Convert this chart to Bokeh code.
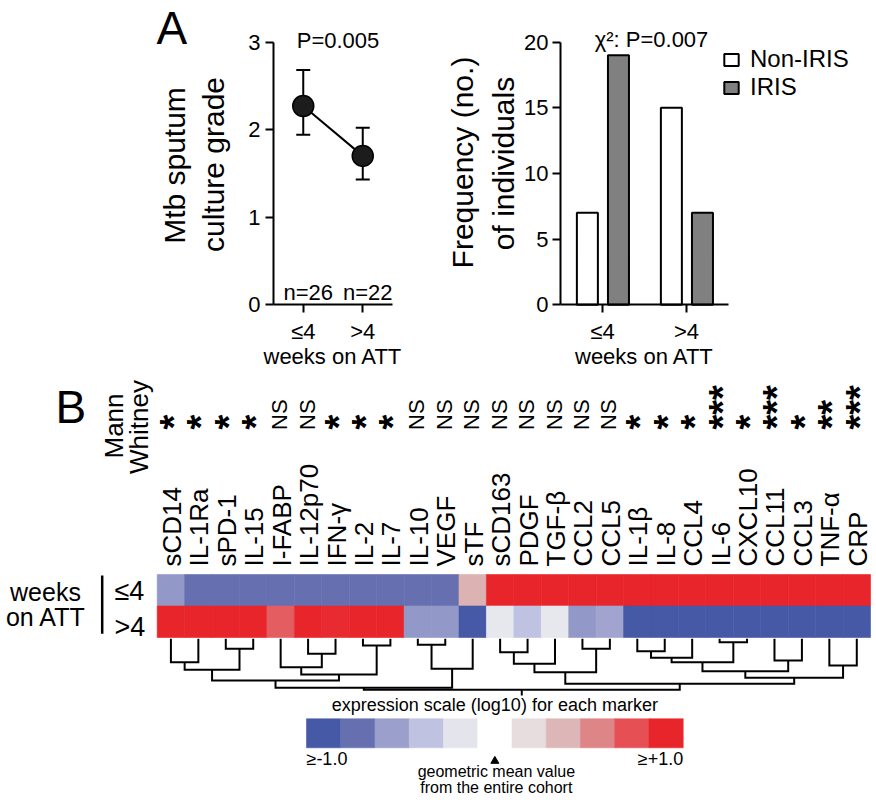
import numpy as np
from bokeh.plotting import figure
from bokeh.models import (ColumnDataSource, Range1d, Label, Legend, LegendItem,
                          LinearColorMapper, SingleIntervalTicker, FixedTicker, Whisker, TeeHead)
from bokeh.transform import dodge, transform
from bokeh.layouts import column, row
from bokeh.embed import file_html
from bokeh.resources import INLINE
from bokeh.core.properties import value

FONT = "Liberation Sans"

# ---------------- data: panel A, left (culture grade) ----------------
weeks = ["≤4", ">4"]
culture_mean = [2.27, 1.70]
culture_upper = [2.68, 2.02]
culture_lower = [1.94, 1.43]
n_per_group = ["n=26", "n=22"]
p_culture = "P=0.005"
culture_ylabel = ["Mtb sputum", "culture grade"]

# ---------------- data: panel A, right (frequency) ----------------
freq_non_iris = [7, 15]
freq_iris = [19, 7]
p_chi = "χ²: P=0.007"
freq_ylabel = ["Frequency (no.)", "of individuals"]

# ---------------- data: panel B (heatmap) ----------------
markers = ["sCD14", "IL-1Ra", "sPD-1", "IL-15", "I-FABP", "IL-12p70", "IFN-γ", "IL-2",
           "IL-7", "IL-10", "VEGF", "sTF", "sCD163", "PDGF", "TGF-β", "CCL2", "CCL5",
           "IL-1β", "IL-8", "CCL4", "IL-6", "CXCL10", "CCL11", "CCL3", "TNF-α", "CRP"]
significance = ["*", "*", "*", "*", "NS", "NS", "*", "*", "*", "NS", "NS", "NS", "NS",
                "NS", "NS", "NS", "NS", "*", "*", "*", "***", "*", "***", "*", "**", "***"]
expr_le4 = [-0.63, -0.8, -0.8, -0.8, -0.8, -0.8, -0.8, -0.8, -0.8, -0.8, -0.8, 0.42,
            1, 1, 1, 1, 1, 1, 1, 1, 1, 1, 1, 1, 1, 1]
expr_gt4 = [1, 1, 1, 1, 0.75, 1, 0.97, 1, 1, -0.63, -0.63, -1, -0.18, -0.4, -0.18,
            -0.63, -0.57, -1, -1, -1, -1, -1, -1, -1, -1, -1]
row_labels = ["≤4", ">4"]
# hierarchical clustering: (child_a, child_b, merge distance); leaves are 0..25
dendro_merges = [(0, 1, 23.4), (2, 3, 10.0), (26, 27, 31.0), (5, 6, 15.0), (4, 29, 28.4),
                 (7, 8, 6.7), (30, 31, 35.7), (28, 32, 41.7), (9, 10, 6.0), (34, 11, 30.0),
                 (33, 35, 49.0), (12, 13, 13.4), (37, 14, 25.0), (15, 16, 10.0),
                 (38, 39, 33.4), (17, 18, 12.4), (41, 19, 19.0), (20, 21, 3.4),
                 (42, 43, 23.4), (22, 23, 21.7), (44, 45, 32.4), (24, 25, 26.7),
                 (46, 47, 39.0), (40, 48, 45.0), (36, 49, 51.0)]
root_stem = 5.7
scale_steps = [-1.0, -0.8, -0.6, -0.4, -0.2, 0.0, 0.2, 0.4, 0.6, 0.8, 1.0]
scale_low_label = "≥-1.0"
scale_high_label = "≥+1.0"

# ---------------- colours ----------------
ANCHORS = ["#4659A6", "#6670B0", "#9A9FCC", "#BFC3E1", "#E4E4EC", "#FFFFFF",
           "#E7DCDE", "#DDB7B7", "#DD8587", "#E65054", "#E8252A"]


def interp_palette(anchors, n):
    rgb = np.array([[int(c[i:i + 2], 16) for i in (1, 3, 5)] for c in anchors], float)
    t = np.linspace(0, len(anchors) - 1, n)
    out = []
    for tt in t:
        i = min(int(np.floor(tt)), len(anchors) - 2)
        f = tt - i
        c = rgb[i] * (1 - f) + rgb[i + 1] * f
        out.append("#%02x%02x%02x" % tuple(int(round(v)) for v in c))
    return out


palette = interp_palette(ANCHORS, 201)
mapper = LinearColorMapper(palette=palette, low=-1.005, high=1.005)


def style_axes(p):
    for ax in p.axis:
        ax.axis_line_width = 2
        ax.axis_line_color = "black"
        ax.major_tick_line_width = 2
        ax.major_tick_line_color = "black"
        ax.major_tick_out = 8
        ax.major_tick_in = 0
        ax.minor_tick_line_color = None
        ax.major_label_text_font = FONT
        ax.major_label_text_font_size = "22px"
        ax.major_label_text_color = "black"
        ax.axis_label_text_font = FONT
        ax.axis_label_text_font_style = "normal"
        ax.axis_label_text_color = "black"
    p.xgrid.visible = False
    p.ygrid.visible = False
    p.outline_line_color = None
    p.background_fill_color = "white"
    p.border_fill_color = "white"


def add_label(p, x, y, text, size, align="center", angle=0.0):
    p.add_layout(Label(x=x, y=y, text=text, angle=angle, text_align=align,
                       text_baseline="middle", text_font=FONT, text_font_size=size,
                       text_color="black"))


W_L, W_R, H_TOP, H_BOT = 430, 446, 376, 424
ngrp = len(weeks)
grp = np.arange(1, ngrp + 1)
week_ticks = {int(g): w for g, w in zip(grp, weeks)}
MID = "middle"

# ================= panel A left =================
AX_L, AX_R, AX_Y0, AX_YT = 273.0, 392.0, 304.3, 41.5
sx_a = (AX_R - AX_L) / ngrp          # px per group
sy_a = (AX_Y0 - AX_YT) / 3.0         # px per grade unit


def lx(px):
    return 0.5 + (px - AX_L) / sx_a


def ly(py):
    return (AX_Y0 - py) / sy_a


pa = figure(width=W_L, height=H_TOP, x_range=Range1d(lx(0), lx(W_L)),
            y_range=Range1d(ly(H_TOP), ly(0)), output_backend="svg",
            toolbar_location=None, min_border=0)
style_axes(pa)
pa.xaxis.fixed_location = 0
pa.xaxis.bounds = (0.5, ngrp + 0.5)
pa.xaxis.ticker = FixedTicker(ticks=list(grp))
pa.xaxis.major_label_overrides = week_ticks
pa.yaxis.fixed_location = 0.5
pa.yaxis.bounds = (0, 3)
pa.yaxis.ticker = SingleIntervalTicker(interval=1)
pa.yaxis.major_label_standoff = 5
pa.xaxis.axis_label = "weeks on ATT"
pa.xaxis.axis_label_text_font_size = "22px"
pa.xaxis.axis_label_standoff = -3
pa.xaxis.major_label_standoff = 6

src_a = ColumnDataSource(dict(g=grp, mean=culture_mean, upper=culture_upper,
                              lower=culture_lower, n=n_per_group))
pa.add_layout(Whisker(source=src_a, base="g", upper="upper", lower="lower",
                      line_width=2, line_color="black", level="underlay",
                      upper_head=TeeHead(size=14, line_width=2, line_color="black"),
                      lower_head=TeeHead(size=14, line_width=2, line_color="black")))
pa.line(x="g", y="mean", source=src_a, line_width=2, line_color="black")
pa.scatter(x="g", y="mean", source=src_a, size=21, fill_color="#1c1c1c",
           line_color="black", line_width=1.5)
pa.text(x="g", y=ly(292), text="n", source=src_a, x_offset=5, text_align="center",
        text_baseline=MID, text_font=value(FONT), text_font_size=value("22px"),
        text_color="black")
add_label(pa, (ngrp + 1) / 2 + 5 / sx_a, ly(40), p_culture, "22px")
add_label(pa, lx(156), ly(27), "A", "46px", align="left")
add_label(pa, lx(174), ly(165), culture_ylabel[0], "30px", angle=np.pi / 2)
add_label(pa, lx(213), ly(164), culture_ylabel[1], "30px", angle=np.pi / 2)

# ================= panel A right =================
BX_L, BX_R, BY_0, BY_T = 560.0, 728.0, 304.3, 41.5
sx_b = (BX_R - BX_L) / ngrp
sy_b = (BY_0 - BY_T) / 20.0


def rx(px):
    return 0.5 + (px - BX_L) / sx_b


def ry(py):
    return (BY_0 - py) / sy_b


pb = figure(width=W_R, height=H_TOP, x_range=Range1d(rx(W_L), rx(W_L + W_R)),
            y_range=Range1d(ry(H_TOP), ry(0)), output_backend="svg",
            toolbar_location=None, min_border=0)
style_axes(pb)
pb.xaxis.fixed_location = 0
pb.xaxis.bounds = (0.5, ngrp + 0.5)
pb.xaxis.ticker = FixedTicker(ticks=list(grp))
pb.xaxis.major_label_overrides = week_ticks
pb.yaxis.fixed_location = 0.5
pb.yaxis.bounds = (0, 20)
pb.yaxis.ticker = SingleIntervalTicker(interval=5)
pb.yaxis.major_label_standoff = 4
pb.xaxis.axis_label = "weeks on ATT"
pb.xaxis.axis_label_text_font_size = "22px"
pb.xaxis.axis_label_standoff = -3
pb.xaxis.major_label_standoff = 6

src_b = ColumnDataSource(dict(g=grp, non=freq_non_iris, iris=freq_iris))
r_non = pb.vbar(x=dodge("g", -0.18), top="non", width=0.25, source=src_b,
                fill_color="white", line_color="black", line_width=2)
r_iris = pb.vbar(x=dodge("g", 0.19), top="iris", width=0.25, source=src_b,
                 fill_color="#808080", line_color="black", line_width=2)
legend = Legend(items=[LegendItem(label="Non-IRIS", renderers=[r_non]),
                       LegendItem(label="IRIS", renderers=[r_iris])],
                location=(722 - W_L, H_TOP - 101), border_line_color=None,
                background_fill_alpha=0, padding=0, margin=0, spacing=-9,
                glyph_width=18, glyph_height=15, label_standoff=10, label_text_font=FONT,
                label_text_font_size="24px", label_text_color="black",
                label_text_baseline="middle")
pb.add_layout(legend)
add_label(pb, rx(651), ry(39), p_chi, "22px")
add_label(pb, rx(461.5), ry(162), freq_ylabel[0], "30px", angle=np.pi / 2)
add_label(pb, rx(503), ry(163), freq_ylabel[1], "30px", angle=np.pi / 2)

# ================= panel B (heatmap) =================
HM_L, HM_R, HM_B, RH = 156.7, 870.0, 637.0, 31.5
CW = (HM_R - HM_L) / len(markers)
Y0 = H_TOP   # page y of this figure's top


def ux(px):
    return (px - HM_L) / CW


def uy(py):
    return (HM_B - py) / RH


ph = figure(width=W_L + W_R, height=H_BOT, x_range=Range1d(ux(0), ux(W_L + W_R)),
            y_range=Range1d(uy(Y0 + H_BOT), uy(Y0)), output_backend="svg",
            toolbar_location=None, min_border=0)
ph.axis.visible = False
ph.xgrid.visible = False
ph.ygrid.visible = False
ph.outline_line_color = None

ncol = len(markers)
cols = np.arange(ncol)
hm = ColumnDataSource(dict(
    x=np.concatenate([cols + 0.5, cols + 0.5]),
    y=np.concatenate([np.full(ncol, 1.5), np.full(ncol, 0.5)]),
    v=expr_le4 + expr_gt4))
ph.rect(x="x", y="y", width=1, height=1, source=hm, fill_color=transform("v", mapper),
        line_color=transform("v", mapper), line_width=0.6)

# marker labels (rotated)
lab = ColumnDataSource(dict(x=cols + 0.5 + 1 / CW, y=np.full(ncol, uy(566)), t=markers))
ph.text(x="x", y="y", text="t", source=lab, angle=np.pi / 2, text_align="left",
        text_baseline=MID, text_font=value(FONT), text_font_size=value("26px"),
        text_color="black")

# significance marks
sig = np.array(significance)
is_ns = sig == "NS"
ns_src = ColumnDataSource(dict(x=cols[is_ns] + 0.5 - 1 / CW, y=np.full(is_ns.sum(), uy(429.5)),
                               t=list(sig[is_ns])))
st_src = ColumnDataSource(dict(x=cols[~is_ns] + 0.5 + 3 / CW,
                               y=np.full((~is_ns).sum(), uy(429)), t=list(sig[~is_ns])))
ph.text(x="x", y="y", text="t", source=ns_src, angle=np.pi / 2, text_align="left",
        text_baseline=MID, text_font=value(FONT), text_font_size=value("22px"),
        text_color="black")
ph.text(x="x", y="y", text="t", source=st_src, angle=np.pi / 2, text_align="left",
        text_baseline=MID, text_font=value(FONT), text_font_size=value("38px"),
        text_font_style="bold", text_color="black")

# Mann Whitney
ph.text(x=[ux(113), ux(138)], y=[uy(425.5), uy(426.5)], text=["Mann", "Whitney"],
        angle=np.pi / 2, text_align="center", text_baseline=MID,
        text_font=value(FONT), text_font_size=value("26px"), text_color="black")
# panel letter
ph.text(x=[ux(55)], y=[uy(406)], text=["B"], text_align="left", text_baseline=MID,
        text_font=value(FONT), text_font_size=value("46px"), text_color="black")

# row labels
ph.text(x=[ux(45), ux(45.5)], y=[uy(591), uy(616)], text=["weeks", "on ATT"],
        text_align="center", text_baseline=MID, text_font=value(FONT),
        text_font_size=value("25px"), text_color="black")
ph.segment(x0=[ux(101.7)], y0=[uy(575)], x1=[ux(101.7)], y1=[uy(633.3)],
           line_width=2.5, line_color="black")
ph.text(x=[ux(114), ux(114)], y=[uy(590), uy(626.6)], text=row_labels,
        text_align="left", text_baseline=MID, text_font=value(FONT),
        text_font_size=value("27px"), text_color="black")

# dendrogram
DEN_TOP = 638.3


def dy(h):
    return uy(DEN_TOP + h)


node_x = {i: i + 0.5 for i in range(ncol)}
node_h = {i: 0.0 for i in range(ncol)}
xs, ys = [], []
for k, (a, b, h) in enumerate(dendro_merges):
    xs.append([node_x[a], node_x[a], node_x[b], node_x[b]])
    ys.append([dy(node_h[a]), dy(h), dy(h), dy(node_h[b])])
    nid = ncol + k
    node_x[nid] = (node_x[a] + node_x[b]) / 2
    node_h[nid] = h
root = ncol + len(dendro_merges) - 1
xs.append([node_x[root], node_x[root]])
ys.append([dy(node_h[root]), dy(node_h[root] + root_stem)])
ph.multi_line(xs=xs, ys=ys, line_color="black", line_width=2, line_join="miter")

# colour scale
CB_L, CB_R, CB_T, CB_B = 306.0, 682.7, 718.3, 747.3
nsteps = len(scale_steps)
cbw = (ux(CB_R) - ux(CB_L)) / nsteps
cb = ColumnDataSource(dict(x=ux(CB_L) + (np.arange(nsteps) + 0.5) * cbw,
                           y=np.full(nsteps, (uy(CB_T) + uy(CB_B)) / 2), v=scale_steps))
ph.rect(x="x", y="y", width=cbw, height=(CB_B - CB_T) / RH, source=cb,
        fill_color=transform("v", mapper), line_color=transform("v", mapper), line_width=0.6)
mid_x = ux(CB_L) + (nsteps // 2 + 0.5) * cbw
ph.text(x=[mid_x], y=[uy(704.5)], text=["expression scale (log10) for each marker"],
        text_align="center", text_baseline=MID, text_font=value(FONT),
        text_font_size=value("18px"), text_color="black")
ph.text(x=[ux(CB_L), ux(CB_R)], y=[uy(758), uy(758)], text=[scale_low_label, scale_high_label],
        text_align=["left", "right"], text_baseline=MID, text_font=value(FONT),
        text_font_size=value("18px"), text_color="black")
ph.scatter(x=[mid_x], y=[uy(760.5)], marker="triangle", size=8, fill_color="black",
           line_color="black")
ph.text(x=[mid_x + 1.5 / CW, mid_x + 1.5 / CW], y=[uy(770.5), uy(787)],
        text=["geometric mean value", "from the entire cohort"], text_align="center",
        text_baseline=MID, text_font=value(FONT), text_font_size=value("16px"),
        text_color="black")

layout = column(row(pa, pb, spacing=0), ph, spacing=0)
open("out.html", "w").write(file_html(layout, INLINE, title="figure"))
